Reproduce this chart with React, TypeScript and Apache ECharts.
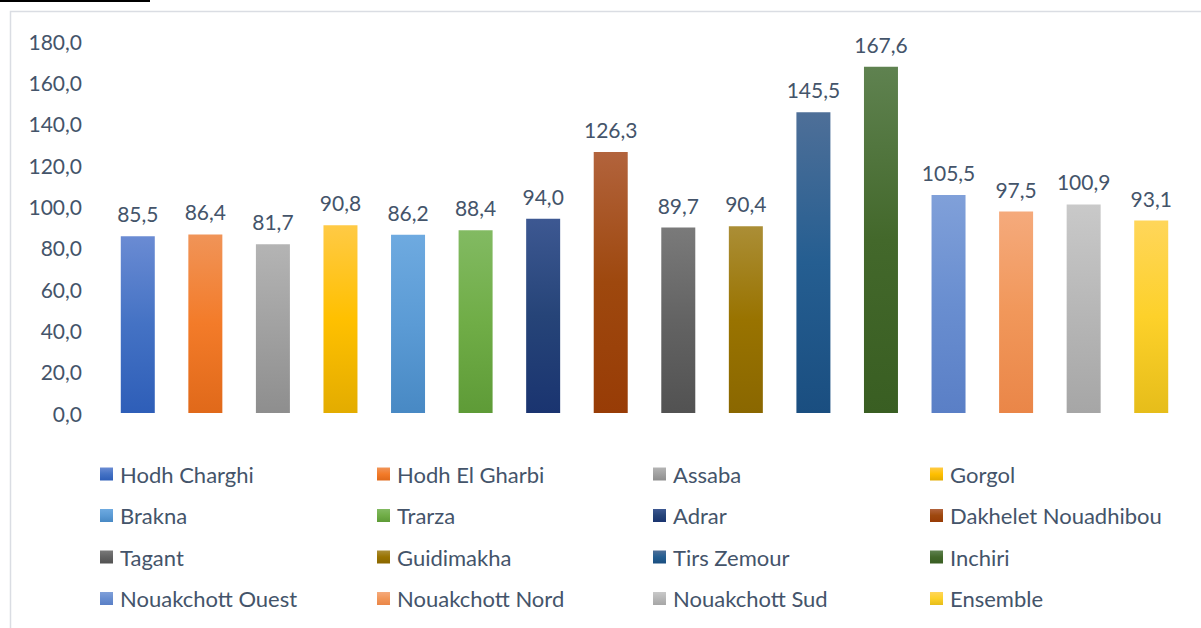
import React, { useEffect, useRef } from "react";
import * as echarts from "echarts";

const regions = [
  "Hodh Charghi", "Hodh El Gharbi", "Assaba", "Gorgol",
  "Brakna", "Trarza", "Adrar", "Dakhelet Nouadhibou",
  "Tagant", "Guidimakha", "Tirs Zemour", "Inchiri",
  "Nouakchott Ouest", "Nouakchott Nord", "Nouakchott Sud", "Ensemble",
];
const values = [85.5, 86.4, 81.7, 90.8, 86.2, 88.4, 94.0, 126.3, 89.7, 90.4, 145.5, 167.6, 105.5, 97.5, 100.9, 93.1];
const gradients: [string, string, string][] = [
  ["#6a8bd3", "#4472c4", "#2e5eb8"],
  ["#f09458", "#f37b29", "#e0691a"],
  ["#b4b4b4", "#a1a1a1", "#8e8e8e"],
  ["#ffca45", "#ffc000", "#e3ac00"],
  ["#6eaae0", "#5b9bd5", "#4889c4"],
  ["#82ba62", "#70ad47", "#5e9b37"],
  ["#3d5892", "#264478", "#1a3470"],
  ["#b2633c", "#9e480e", "#983c06"],
  ["#7a7a7a", "#636363", "#525252"],
  ["#ab8e36", "#997300", "#8a6700"],
  ["#4e6f98", "#255e91", "#1a4e80"],
  ["#5f8250", "#43682b", "#395e22"],
  ["#80a0d9", "#698ed0", "#5a7fc6"],
  ["#f5aa7c", "#f1975a", "#ea8648"],
  ["#c9c9c9", "#b7b7b7", "#a6a6a6"],
  ["#ffd65a", "#fdd12a", "#e6bd1a"],
];
const yTicks = { min: 0, max: 180, interval: 20 };

const textColor = "#44546A";
const font = "Lato";

export default function App() {
  const ref = useRef<HTMLDivElement>(null);
  useEffect(() => {
    if (!ref.current) return;
    const chart = echarts.init(ref.current, null, { renderer: "svg" });
    const fmt = (v: number) => v.toFixed(1).replace(".", ",");
    const series = regions.map((name, i) => ({
      name,
      type: "bar",
      stack: "all",
      barWidth: 34,
      data: values.map((v, j) => (j === i ? v : "-")),
      itemStyle: {
        color: new echarts.graphic.LinearGradient(0, 0, 0, 1, [
          { offset: 0, color: gradients[i][0] },
          { offset: 0.5, color: gradients[i][1] },
          { offset: 1, color: gradients[i][2] },
        ]),
      },
      label: {
        show: true,
        position: "top",
        distance: 12,
        color: textColor,
        fontFamily: font,
        fontSize: 21,
        formatter: (p: any) => fmt(p.value),
      },
    }));
    const colX = [100, 377, 653, 930];
    const legends = colX.map((x, c) => ({
      orient: "vertical",
      left: x,
      top: 463,
      padding: 0,
      itemWidth: 13,
      itemHeight: 13,
      itemGap: 19.5,
      selectedMode: false,
      icon: "rect",
      data: [0, 1, 2, 3].map((r) => regions[c + r * 4]),
      textStyle: { color: textColor, fontFamily: font, fontSize: 22, lineHeight: 21, padding: [0, 0, 0, 2] },
    }));
    chart.setOption({
      animation: false,
      backgroundColor: "#ffffff",
      textStyle: { fontFamily: font },
      grid: { left: 104, right: 16, top: 41, bottom: 215 },
      legend: legends,
      xAxis: {
        type: "category",
        data: regions,
        axisLabel: { show: false },
        axisTick: { show: false },
        axisLine: { show: false },
      },
      yAxis: {
        type: "value",
        min: yTicks.min,
        max: yTicks.max,
        interval: yTicks.interval,
        splitLine: { show: false },
        axisLine: { show: false },
        axisTick: { show: false },
        axisLabel: {
          margin: 22,
          color: textColor,
          fontFamily: font,
          fontSize: 21,
          formatter: (v: number) => fmt(v),
        },
      },
      graphic: [
        { type: "rect", shape: { x: 10.5, y: 11.5, width: 1300, height: 800 }, style: { fill: "none", stroke: "#dadde3", lineWidth: 1.5 }, silent: true },
        { type: "rect", shape: { x: 0, y: 0, width: 150, height: 2 }, style: { fill: "#000000" }, silent: true },
      ],
      series,
    });
    return () => chart.dispose();
  }, []);
  return <div ref={ref} style={{ position: "fixed", left: 0, top: 0, width: 1201, height: 628 }} />;
}
